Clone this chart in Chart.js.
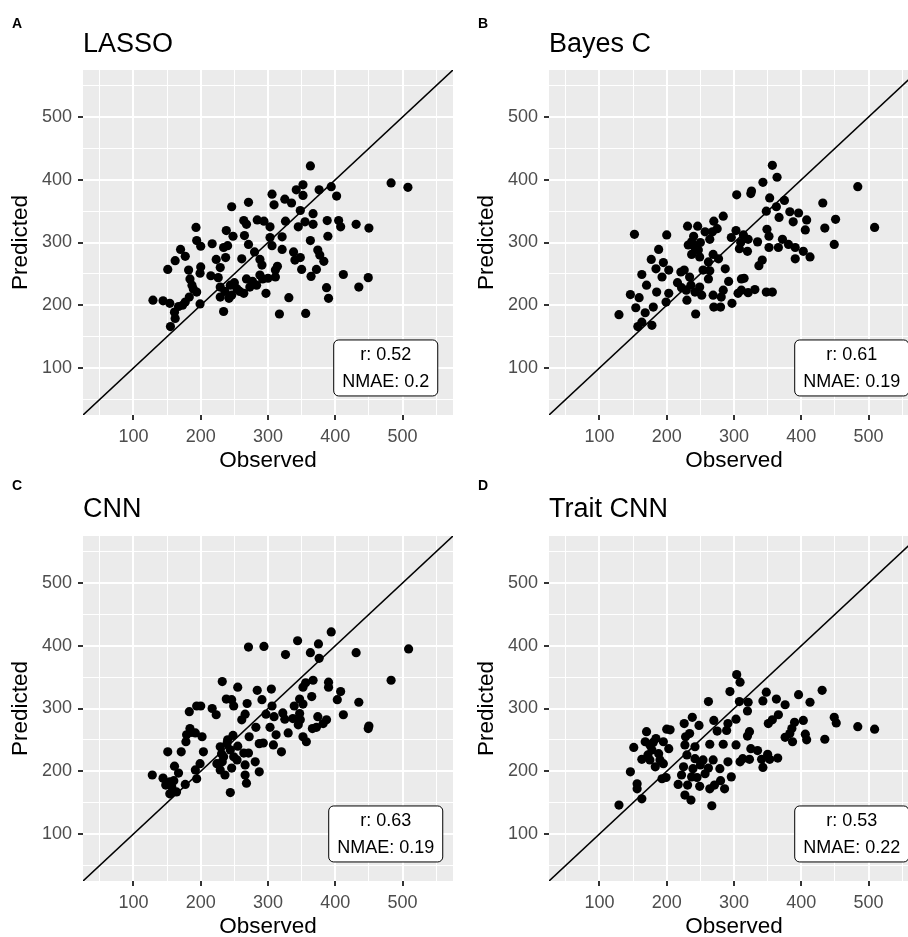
<!DOCTYPE html>
<html>
<head>
<meta charset="utf-8">
<script src="https://cdn.jsdelivr.net/npm/chart.js@4.4.0/dist/chart.umd.min.js"></script>
<style>
  body { margin: 0; background: #fff; width: 908px; height: 937px; overflow: hidden; position: relative; }
  canvas { position: absolute; }
</style>
</head>
<body>
<canvas id="pA" width="466" height="476" style="left:0;top:0"></canvas>
<canvas id="pB" width="466" height="476" style="left:466px;top:0"></canvas>
<canvas id="pC" width="466" height="476" style="left:0;top:466px"></canvas>
<canvas id="pD" width="466" height="476" style="left:466px;top:466px"></canvas>
<script>
const panelLetters = ['A', 'B', 'C', 'D'];
const panelTitles = ['LASSO', 'Bayes C', 'CNN', 'Trait CNN'];
const rValues = ['0.52', '0.61', '0.63', '0.53'];
const nmaeValues = ['0.2', '0.19', '0.19', '0.22'];
const axisMin = 25, axisMax = 575;
const tickValues = [50, 100, 150, 200, 250, 300, 350, 400, 450, 500, 550];
const labelAt = [475, 100];

// observed / predicted per model
const lassoObs = [306,309,271,246,264,268,284,294,303,193,238,248,265,303,194,200,217,234,240,271,306,170,177,162,223,237,280,288,261,151,182,200,229,291,288,268,184,187,194,226,229,244,254,264,229,242,273,283,297,129,144,154,167,177,183,161,162,155,199,234,317,
  363,352,342,352,376,394,402,483,508,325,335,348,367,326,345,355,367,388,405,408,431,450,321,363,389,321,338,348,374,377,383,340,311,311,350,372,364,412,449,435,387,390,331,356,
  250,258,236,246,277,215,189,199,173,292,300,314];
const lassoPred = [377,360,364,357,335,329,336,334,325,324,319,310,311,308,303,294,298,292,295,297,295,289,278,271,273,276,285,273,274,257,256,261,260,264,248,242,242,232,221,244,229,232,226,219,213,211,229,232,219,208,207,203,198,205,213,189,179,166,202,190,186,
  422,392,384,375,384,389,374,395,388,369,363,351,346,334,325,333,329,335,335,325,329,323,309,303,310,289,285,276,288,280,270,272,256,245,257,257,246,249,244,229,228,211,212,187,
  236,222,222,216,238,247,226,251,200,242,243,262];

const bayesObs = [304,152,200,231,246,270,284,257,268,275,264,237,242,237,296,303,308,188,177,195,184,203,193,163,170,185,146,159,154,168,180,129,157,178,163,199,203,216,226,234,229,230,243,242,249,252,262,264,262,277,269,287,292,284,281,269,270,280,297,311,306,247,249,254,221,
  357,364,343,325,326,353,375,363,348,383,396,432,484,367,388,408,451,435,509,406,349,352,321,335,320,352,366,372,381,391,403,413,391,449,342,337,315,311,321,331,348,357,
  240,232,250,310,314,236,222];
const bayesPred = [376,313,312,326,326,334,342,317,317,322,305,301,292,281,308,319,290,289,273,268,258,256,245,249,232,221,217,212,196,188,197,185,166,168,173,205,219,236,256,245,224,208,186,221,229,216,242,255,269,274,281,258,238,224,213,216,197,197,203,242,219,288,277,256,253,
  423,404,396,378,382,371,367,357,350,349,347,363,389,340,333,336,337,323,324,320,321,310,305,301,286,292,292,305,297,292,286,277,274,297,272,263,243,224,220,225,221,221,
  310,296,300,300,312,232,228];

const cnnObs = [271,294,232,255,284,305,291,238,246,249,269,306,183,194,200,217,223,266,261,297,309,184,179,178,192,202,151,171,204,282,272,303,248,239,229,231,244,264,271,287,293,308,254,249,266,281,287,266,268,229,236,244,128,144,154,161,167,157,154,164,177,192,194,199,234,224,
  394,344,375,363,376,326,431,509,483,367,356,352,390,390,408,403,435,365,347,352,339,322,325,337,347,348,345,374,387,382,412,450,449,366,372,330,312,352,357,320,
  240,232,246,255,186,160,148];
const cnnPred = [398,399,343,334,329,331,314,315,314,304,308,304,295,304,304,300,290,291,282,291,287,268,258,247,261,255,231,231,231,270,255,270,257,244,239,228,234,229,229,244,245,242,218,223,210,215,199,194,181,202,194,166,194,189,183,208,197,175,164,167,179,202,188,212,223,212,
  422,408,403,389,380,386,389,395,345,345,341,334,342,334,327,314,310,319,315,307,304,293,283,284,292,282,274,287,282,276,290,272,268,268,270,261,258,255,247,231,
  250,215,205,240,262,185,178];

const traitObs = [304,309,294,262,308,238,226,248,270,291,303,289,275,170,200,205,234,228,184,195,175,151,203,227,242,264,284,303,163,175,190,183,195,230,242,254,269,291,309,146,225,239,257,279,296,193,199,156,156,217,231,249,264,271,286,163,227,236,129,267,168,178,222,237,
  431,396,413,348,343,363,376,321,320,366,351,357,390,403,449,452,484,509,386,383,376,387,406,408,435,323,320,325,335,313,323,341,343,350,353,365,
  172,188,250,262,245,280,180];
const traitPred = [354,342,327,311,311,286,276,273,281,276,283,265,264,263,267,266,260,255,252,247,242,238,236,242,239,243,243,242,219,218,218,207,212,226,220,218,218,215,215,199,207,204,196,204,191,188,190,180,172,179,178,176,172,178,172,156,162,154,146,145,247,234,194,191,
  329,322,310,326,312,315,306,310,296,290,276,282,278,281,286,277,271,267,268,260,254,247,259,250,251,263,256,236,233,220,219,219,206,227,219,221,
  226,228,210,205,190,185,246];

const font = 'Liberation Sans, Arial, sans-serif';

function axis(title, isX) {
  return {
    type: 'linear',
    min: axisMin,
    max: axisMax,
    afterBuildTicks: s => { s.ticks = tickValues.map(v => ({ value: v })); },
    afterFit: s => { if (isX) s.height = 61; else s.width = 83; },
    ticks: {
      autoSkip: false,
      maxRotation: 0,
      padding: 6,
      color: '#4D4D4D',
      font: { family: font, size: 18 },
      callback: v => (v % 100 === 0 ? String(v) : '')
    },
    grid: {
      color: '#FFFFFF',
      lineWidth: c => (c.tick && c.tick.value % 100 === 0 ? 2 : 1),
      tickColor: c => (c.tick && c.tick.value % 100 === 0 ? '#333333' : 'rgba(0,0,0,0)'),
      tickLength: 5
    },
    border: { display: false },
    title: {
      display: true,
      text: title,
      color: '#000',
      font: { family: font, size: 22.5 },
      padding: isX ? { top: 4, bottom: 2 } : { top: 7, bottom: 2 }
    }
  };
}

// grey panel
const panelBg = {
  id: 'panelBg',
  beforeDraw(chart) {
    const a = chart.chartArea, c = chart.ctx;
    c.save();
    c.fillStyle = '#EBEBEB';
    c.fillRect(a.left, a.top, a.right - a.left, a.bottom - a.top);
    c.restore();
  }
};

function panelText(i) {
  return {
    id: 'panelText',
    afterDraw(chart) {
      const c = chart.ctx, a = chart.chartArea;
      c.save();
      c.fillStyle = '#000';
      c.textBaseline = 'alphabetic';
      c.textAlign = 'left';
      c.font = 'bold 14px ' + font;
      c.fillText(panelLetters[i], 12, i < 2 ? 28 : 24);
      c.font = '27px ' + font;
      c.fillText(panelTitles[i], a.left, i < 2 ? 52 : 51);

      // r / NMAE label
      const px = chart.scales.x.getPixelForValue(labelAt[0]);
      const py = chart.scales.y.getPixelForValue(labelAt[1]);
      const l1 = 'r: ' + rValues[i], l2 = 'NMAE: ' + nmaeValues[i];
      c.font = '18px ' + font;
      const w = Math.max(c.measureText(l1).width, c.measureText(l2).width) + 17;
      const h = 56, r = 5;
      const x0 = px - w / 2, y0 = py - h / 2;
      c.beginPath();
      c.moveTo(x0 + r, y0);
      c.arcTo(x0 + w, y0, x0 + w, y0 + h, r);
      c.arcTo(x0 + w, y0 + h, x0, y0 + h, r);
      c.arcTo(x0, y0 + h, x0, y0, r);
      c.arcTo(x0, y0, x0 + w, y0, r);
      c.closePath();
      c.fillStyle = '#fff';
      c.fill();
      c.lineWidth = 1;
      c.strokeStyle = '#000';
      c.stroke();
      c.fillStyle = '#000';
      c.textAlign = 'center';
      c.textBaseline = 'middle';
      c.fillText(l1, px, py - 13);
      c.fillText(l2, px, py + 14);
      c.restore();
    }
  };
}

function makePanel(id, i, obs, pred) {
  return new Chart(document.getElementById(id).getContext('2d'), {
    type: 'scatter',
    data: {
      datasets: [
        {
          data: [axisMin, axisMax].map(v => ({ x: v, y: v })),
          showLine: true,
          borderColor: '#000',
          borderWidth: 1.6,
          pointRadius: 0
        },
        {
          data: obs.map((v, k) => ({ x: v, y: pred[k] })),
          backgroundColor: '#000',
          borderWidth: 0,
          pointRadius: 4.6
        }
      ]
    },
    options: {
      responsive: false,
      animation: false,
      devicePixelRatio: 1,
      layout: { padding: { left: 0, top: 70, right: 13, bottom: 0 } },
      plugins: { legend: { display: false }, tooltip: { enabled: false } },
      scales: { x: axis('Observed', true), y: axis('Predicted', false) }
    },
    plugins: [panelBg, panelText(i)]
  });
}

makePanel('pA', 0, lassoObs, lassoPred);
makePanel('pB', 1, bayesObs, bayesPred);
makePanel('pC', 2, cnnObs, cnnPred);
makePanel('pD', 3, traitObs, traitPred);
</script>
</body>
</html>
